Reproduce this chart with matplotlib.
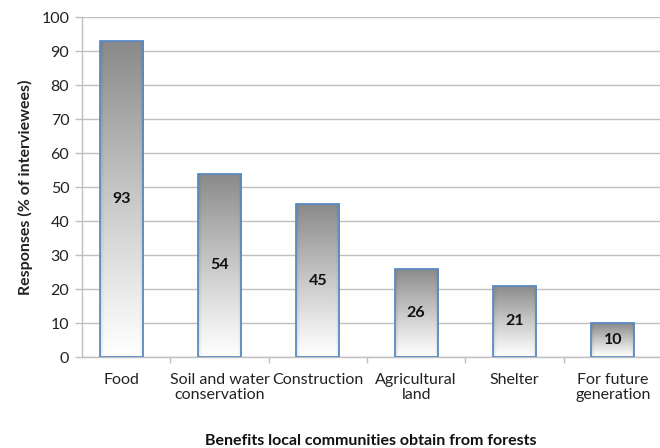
import matplotlib
matplotlib.use("Agg")
import matplotlib.pyplot as plt
import numpy as np
from matplotlib.patches import Rectangle

plt.rcParams['font.family'] = ['Lato', 'DejaVu Sans']

# benefits reported by interviewees
benefits = ["Food", "Soil and water\nconservation", "Construction",
            "Agricultural\nland", "Shelter", "For future\ngeneration"]
responses = [93, 54, 45, 26, 21, 10]

grid_col = "#bfbfbf"
edge_col = "#5a8ac6"
bar_w = 0.44

fig = plt.figure(figsize=(6.6, 4.48), dpi=100)
ax = fig.add_axes([0.124, 0.203, 0.876, 0.758])

x = np.arange(len(benefits))
ax.set_xlim(-0.40, 5.48)
ax.set_ylim(0, 100)

# shaded fill: dark grey at top fading to white, with darker sides
ny, nx = 200, 60
vert = np.linspace(0, 1, ny)[:, None]           # 0 = bottom, 1 = top
shade = 1.0 - 0.46 * vert ** 1.1
xs = np.linspace(-1, 1, nx)[None, :]
side = 1.0 - 0.10 * np.clip((np.abs(xs) - 0.82) / 0.18, 0, 1)
img = np.clip(shade * side, 0, 1)
rgb = np.dstack([img, img, img])

for xi, v in zip(x, responses):
    x0 = xi - bar_w / 2
    rect = Rectangle((x0, 0), bar_w, v, facecolor="none",
                     edgecolor=edge_col, linewidth=1.3, zorder=4)
    im = ax.imshow(rgb, extent=(x0, x0 + bar_w, 0, v), origin="lower",
                   aspect="auto", zorder=3, interpolation="bilinear")
    ax.add_patch(rect)
    im.set_clip_path(rect)
    ax.text(xi, v / 2, str(v), ha="center", va="center", fontsize=11.5,
            fontweight="bold", color="#111111", zorder=5)

ax.set_yticks(np.arange(0, 101, 10))
ax.yaxis.grid(True, color=grid_col, linewidth=1.0)
ax.set_axisbelow(True)

# category boundaries carry the x tick marks
ax.set_xticks(np.arange(0.5, 5, 1))
ax.set_xticklabels([])
ax.tick_params(axis="x", length=4, color=grid_col, width=1)
ax.tick_params(axis="y", length=5, color=grid_col, width=1,
               labelsize=11.5, labelcolor="#222222", pad=4)
for xi, lab in zip(x, benefits):
    ax.text(xi, -4.8, lab, ha="center", va="top", fontsize=11.5,
            color="#222222", linespacing=1.1)

for s in ["top", "right"]:
    ax.spines[s].set_visible(False)
for s in ["left", "bottom"]:
    ax.spines[s].set_color(grid_col)
    ax.spines[s].set_linewidth(1.0)

ax.set_ylabel("Responses (% of interviewees)", fontsize=11.5,
              fontweight="bold", color="#222222", labelpad=6)
fig.text(0.562, 0.0, "Benefits local communities obtain from forests",
         ha="center", va="bottom", fontsize=11.5, fontweight="bold",
         color="#111111")

fig.savefig("out.png", dpi=100)
